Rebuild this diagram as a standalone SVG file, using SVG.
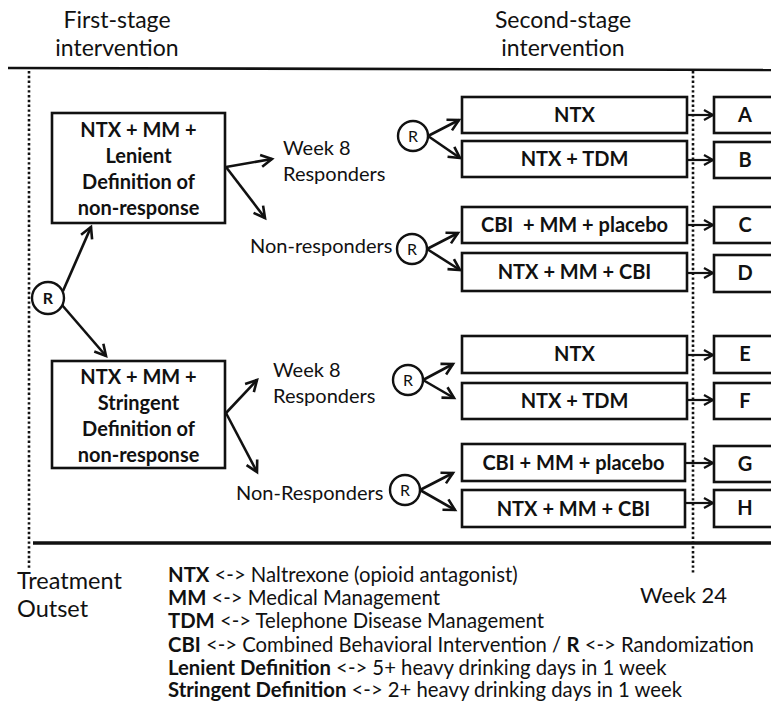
<svg xmlns="http://www.w3.org/2000/svg" width="771" height="723" viewBox="0 0 771 723">
<style>
  .t { font-family: Lato, "Open Sans", "Liberation Sans", sans-serif; fill: #111; }
  .hd { font-size: 23px; text-anchor: middle; }
  .lb { font-size: 20px; }
  .bx { font-size: 20px; font-weight: bold; text-anchor: middle; white-space: pre; }
  .lg { font-size: 20.3px; }
  .b { font-weight: bold; }
  .box { fill: #fff; stroke: #111; stroke-width: 2.6; }
  .circ { fill: #fff; stroke: #111; stroke-width: 2.4; }
  .con { fill: none; stroke: #111; stroke-width: 2.6; marker-end: url(#ah); }
  .con2 { fill: none; stroke: #111; stroke-width: 2.2; marker-end: url(#ahs); }
  .rule { stroke: #111; fill: none; }
  .dot { stroke: #111; stroke-width: 2.6; stroke-dasharray: 2.4 2.4; fill: none; }
</style>
<defs>
  <marker id="ah" viewBox="0 0 14 14" refX="12" refY="7" markerWidth="14" markerHeight="14" markerUnits="userSpaceOnUse" orient="auto" overflow="visible">
    <path d="M1,1 L12,7 L1,13" fill="none" stroke="#111" stroke-width="2.6" stroke-linejoin="miter"/>
  </marker>
  <marker id="ahs" viewBox="0 0 12 12" refX="10" refY="6" markerWidth="12" markerHeight="12" markerUnits="userSpaceOnUse" orient="auto" overflow="visible">
    <path d="M1,1 L10,6 L1,11" fill="none" stroke="#111" stroke-width="2.2"/>
  </marker>
</defs>
<rect width="771" height="723" fill="#fff"/>

<!-- headers -->
<g id="headers" class="t hd">
  <text x="117" y="28">First-stage</text>
  <text x="117" y="56">intervention</text>
  <text x="563" y="28">Second-stage</text>
  <text x="563" y="56">intervention</text>
</g>

<!-- timeline rules -->
<g id="timeline">
  <path class="rule" d="M8,68 L771,70" stroke-width="2.6"/>
  <path class="rule" d="M33,543 L771,543" stroke-width="3.6"/>
  <path class="dot" d="M29,71 L29,568"/>
  <path class="dot" d="M693,71 L693,575"/>
</g>

<!-- connectors -->
<g id="connectors">
  <path class="con" d="M63,291 L91,227"/>
  <path class="con" d="M62,305 L106,356"/>
  <path class="con" d="M226,167 L272,159"/>
  <path class="con" d="M226,167 L265,218"/>
  <path class="con" d="M226,413 L257,380"/>
  <path class="con" d="M226,413 L257,472"/>
  <path class="con" d="M428,136 L459,120"/>
  <path class="con" d="M428,136 L460,158"/>
  <path class="con" d="M427,249 L458,233"/>
  <path class="con" d="M427,249 L460,270"/>
  <path class="con" d="M423,380 L453,364"/>
  <path class="con" d="M423,380 L454,398"/>
  <path class="con" d="M420,490 L453,473"/>
  <path class="con" d="M420,490 L455,510"/>
  <path class="con2" d="M687,115 L713,115"/>
  <path class="con2" d="M687,160 L713,160"/>
  <path class="con2" d="M687,225 L713,225"/>
  <path class="con2" d="M687,273 L713,273"/>
  <path class="con2" d="M687,355 L713,355"/>
  <path class="con2" d="M687,400 L713,400"/>
  <path class="con2" d="M685,463 L713,463"/>
  <path class="con2" d="M685,503 L713,503"/>
</g>

<!-- first randomization -->
<g id="r0">
  <circle class="circ" cx="48" cy="298" r="16"/>
  <text class="t b" x="48" y="304" font-size="16" text-anchor="middle">R</text>
</g>

<!-- first-stage boxes -->
<g id="box1">
  <rect class="box" x="52" y="113" width="173" height="110"/>
  <g class="t bx">
    <text x="138.5" y="137">NTX + MM +</text>
    <text x="138.5" y="163">Lenient</text>
    <text x="138.5" y="189">Definition of</text>
    <text x="138.5" y="215">non-response</text>
  </g>
</g>
<g id="box2">
  <rect class="box" x="52" y="361" width="173" height="107"/>
  <g class="t bx">
    <text x="138.5" y="384">NTX + MM +</text>
    <text x="138.5" y="410">Stringent</text>
    <text x="138.5" y="436">Definition of</text>
    <text x="138.5" y="462">non-response</text>
  </g>
</g>

<!-- response labels -->
<g id="labels1" class="t lb">
  <text x="283" y="155">Week 8</text>
  <text x="283" y="181">Responders</text>
  <text x="250" y="253">Non-responders</text>
</g>
<g id="labels2" class="t lb">
  <text x="273" y="377">Week 8</text>
  <text x="273" y="403">Responders</text>
  <text x="236" y="500">Non-Responders</text>
</g>

<!-- second randomizations -->
<g id="r1"><circle class="circ" cx="413" cy="136" r="15"/><text class="t" x="413" y="142" font-size="16" text-anchor="middle">R</text></g>
<g id="r2"><circle class="circ" cx="412" cy="249" r="15"/><text class="t" x="412" y="255" font-size="16" text-anchor="middle">R</text></g>
<g id="r3"><circle class="circ" cx="408" cy="380" r="15"/><text class="t" x="408" y="386" font-size="16" text-anchor="middle">R</text></g>
<g id="r4"><circle class="circ" cx="405" cy="490" r="15"/><text class="t" x="405" y="496" font-size="16" text-anchor="middle">R</text></g>

<!-- second-stage boxes -->
<g id="s1"><rect class="box" x="462" y="97" width="225" height="36"/><text class="t bx" x="574.5" y="122">NTX</text></g>
<g id="s2"><rect class="box" x="462" y="141" width="225" height="36"/><text class="t bx" x="574.5" y="166">NTX + TDM</text></g>
<g id="s3"><rect class="box" x="462" y="207" width="225" height="36"/><text class="t bx" x="574.5" y="232">CBI  + MM + placebo</text></g>
<g id="s4"><rect class="box" x="462" y="253" width="225" height="38"/><text class="t bx" x="574.5" y="279">NTX + MM + CBI</text></g>
<g id="s5"><rect class="box" x="462" y="336" width="225" height="37"/><text class="t bx" x="574.5" y="361">NTX</text></g>
<g id="s6"><rect class="box" x="462" y="383" width="225" height="36"/><text class="t bx" x="574.5" y="408">NTX + TDM</text></g>
<g id="s7"><rect class="box" x="462" y="444" width="223" height="37"/><text class="t bx" x="573.5" y="470">CBI + MM + placebo</text></g>
<g id="s8"><rect class="box" x="462" y="490" width="223" height="37"/><text class="t bx" x="573.5" y="516">NTX + MM + CBI</text></g>

<!-- outcome boxes -->
<g id="outA"><rect class="box" x="714" y="97" width="80" height="36"/><text class="t bx" x="745" y="122">A</text></g>
<g id="outB"><rect class="box" x="714" y="142" width="80" height="36"/><text class="t bx" x="745" y="167">B</text></g>
<g id="outC"><rect class="box" x="714" y="207" width="80" height="36"/><text class="t bx" x="745" y="232">C</text></g>
<g id="outD"><rect class="box" x="714" y="255" width="80" height="37"/><text class="t bx" x="745" y="280">D</text></g>
<g id="outE"><rect class="box" x="714" y="336" width="80" height="37"/><text class="t bx" x="745" y="361">E</text></g>
<g id="outF"><rect class="box" x="714" y="383" width="80" height="36"/><text class="t bx" x="745" y="408">F</text></g>
<g id="outG"><rect class="box" x="714" y="446" width="80" height="36"/><text class="t bx" x="745" y="471">G</text></g>
<g id="outH"><rect class="box" x="714" y="490" width="80" height="37"/><text class="t bx" x="745" y="515">H</text></g>

<!-- time labels -->
<g id="timelabels" class="t">
  <text x="17" y="589" font-size="23.5">Treatment</text>
  <text x="17" y="617" font-size="23.5">Outset</text>
  <text x="640" y="603" font-size="22">Week 24</text>
</g>

<!-- legend -->
<g id="legend" class="t lg">
  <text x="168" y="582"><tspan class="b">NTX</tspan> &lt;-&gt; Naltrexone (opioid antagonist)</text>
  <text x="168" y="605"><tspan class="b">MM</tspan> &lt;-&gt; Medical Management</text>
  <text x="168" y="628"><tspan class="b">TDM</tspan> &lt;-&gt; Telephone Disease Management</text>
  <text x="168" y="652"><tspan class="b">CBI</tspan> &lt;-&gt; Combined Behavioral Intervention / <tspan class="b">R</tspan> &lt;-&gt; Randomization</text>
  <text x="168" y="675"><tspan class="b">Lenient Definition</tspan> &lt;-&gt; 5+ heavy drinking days in 1 week</text>
  <text x="168" y="697"><tspan class="b">Stringent Definition</tspan> &lt;-&gt; 2+ heavy drinking days in 1 week</text>
</g>
</svg>
